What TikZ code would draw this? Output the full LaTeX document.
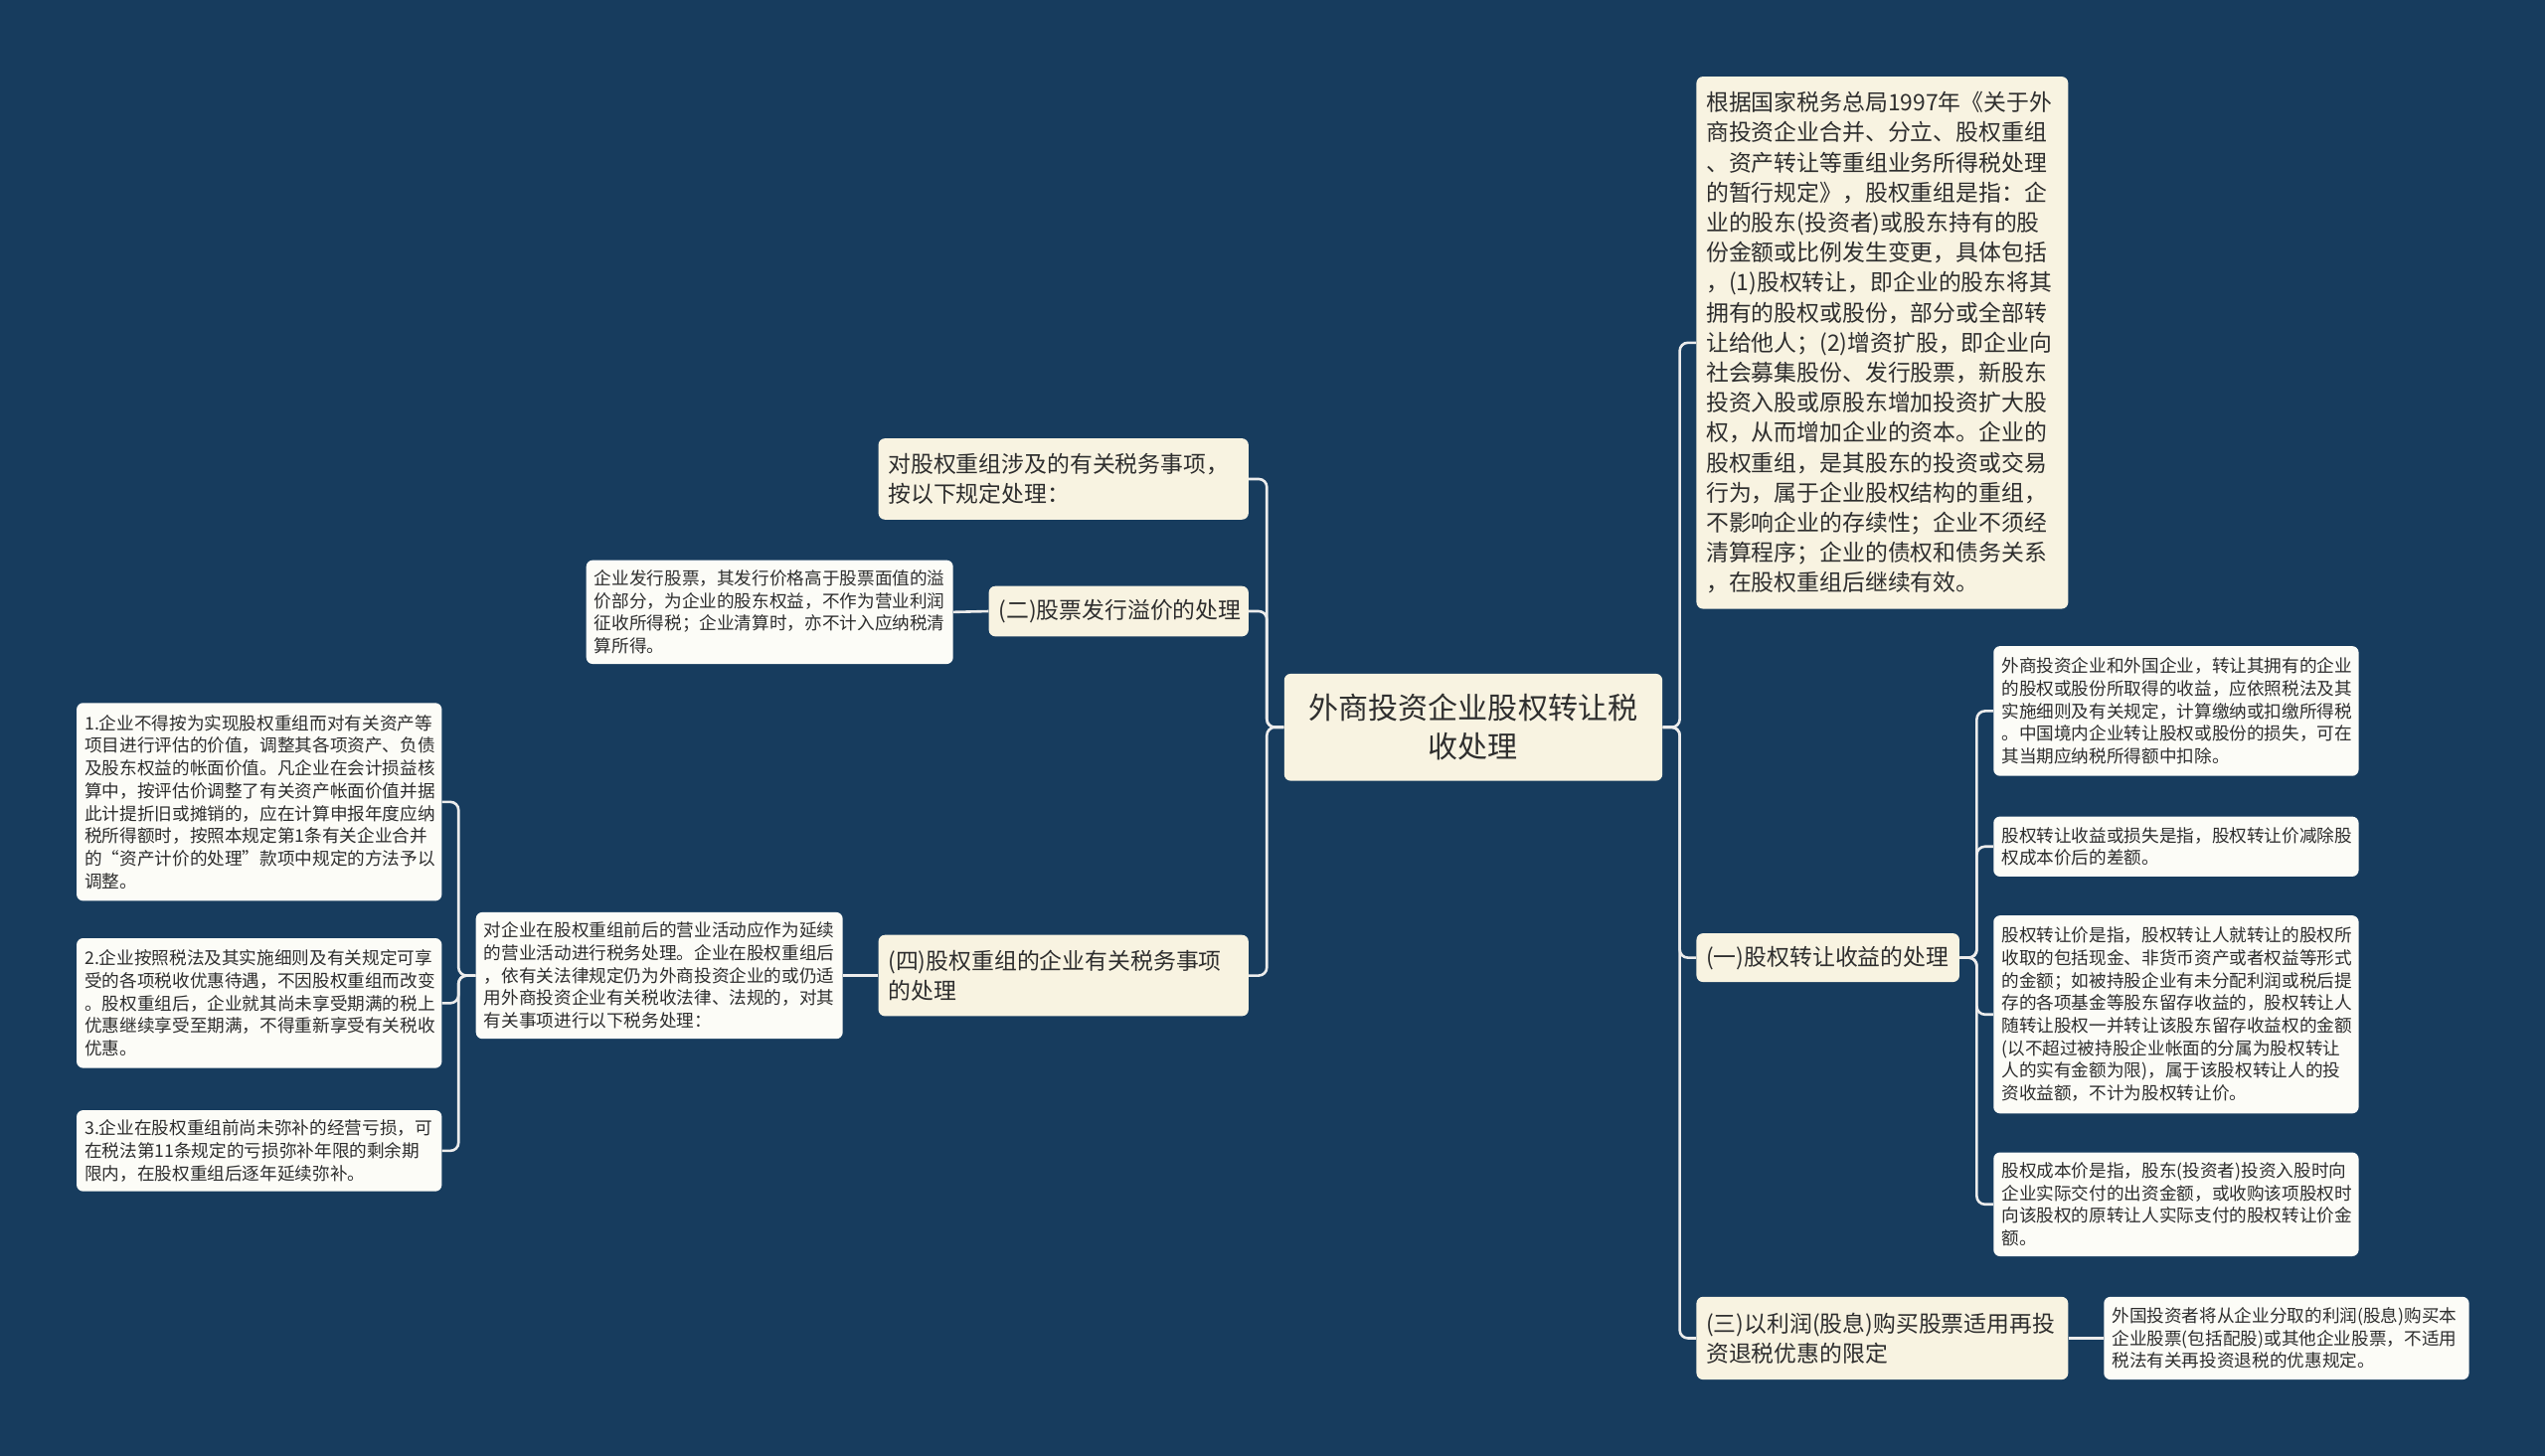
\documentclass[tikz,border=0pt]{standalone}
\usepackage{fontspec}
\newfontfamily\cjk{Noto Sans CJK SC}
\usepackage{tikz}
\usetikzlibrary{backgrounds}
\definecolor{navy}{HTML}{173C5E}
\definecolor{cream}{HTML}{F8F3E1}
\definecolor{paper}{HTML}{FCFCF7}
\definecolor{ink}{HTML}{2E2E2E}
\definecolor{wire}{HTML}{ECECEC}
\newcommand{\bgcolor}{navy}
\newcommand{\linkcolor}{wire}
\newcommand{\linkwidth}{1.6pt}
\newcommand{\gap}{10.5}
\newcommand{\bigfont}{\cjk\fontsize{18.4pt}{24pt}\selectfont}
\newcommand{\midfont}{\cjk\fontsize{14pt}{18.5pt}\selectfont}
\newcommand{\smallfont}{\cjk\fontsize{10.8pt}{13.9pt}\selectfont}

\begin{document}
\begin{tikzpicture}[x=1pt,y=-1pt,
  topic/.style={fill=cream, text=ink, rounded corners=4pt, anchor=north west,
    align=left, inner xsep=6pt, inner ysep=0pt, font=\midfont},
  note/.style={topic, fill=paper, inner xsep=5pt, font=\smallfont}]
\useasboundingbox (0,0) rectangle (1568,897);
% centre
\node[topic, align=center, font=\bigfont, minimum width=233pt, text width=221pt, minimum height=66pt] (root) at (791,415) {外商投资企业股权转让税\\收处理};
% right side
\node[topic, minimum width=229pt, text width=217pt, minimum height=328pt] (a) at (1045,47) {根据国家税务总局1997年《关于外\\商投资企业合并、分立、股权重组\\、资产转让等重组业务所得税处理\\的暂行规定》，股权重组是指：企\\业的股东(投资者)或股东持有的股\\份金额或比例发生变更，具体包括\\，(1)股权转让，即企业的股东将其\\拥有的股权或股份，部分或全部转\\让给他人；(2)增资扩股，即企业向\\社会募集股份、发行股票，新股东\\投资入股或原股东增加投资扩大股\\权，从而增加企业的资本。企业的\\股权重组，是其股东的投资或交易\\行为，属于企业股权结构的重组，\\不影响企业的存续性；企业不须经\\清算程序；企业的债权和债务关系\\，在股权重组后继续有效。};
\node[topic, minimum width=162pt, text width=150pt, minimum height=30pt] (b) at (1045,575) {(一)股权转让收益的处理};
\node[topic, minimum width=229pt, text width=217pt, minimum height=51pt] (c) at (1045,799) {(三)以利润(股息)购买股票适用再投\\资退税优惠的限定};
\node[note, minimum width=225pt, text width=215pt, minimum height=80pt] (b1) at (1228,398) {外商投资企业和外国企业，转让其拥有的企业\\的股权或股份所取得的收益，应依照税法及其\\实施细则及有关规定，计算缴纳或扣缴所得税\\。中国境内企业转让股权或股份的损失，可在\\其当期应纳税所得额中扣除。};
\node[note, minimum width=225pt, text width=215pt, minimum height=37pt] (b2) at (1228,503) {股权转让收益或损失是指，股权转让价减除股\\权成本价后的差额。};
\node[note, minimum width=225pt, text width=215pt, minimum height=122pt] (b3) at (1228,564) {股权转让价是指，股权转让人就转让的股权所\\收取的包括现金、非货币资产或者权益等形式\\的金额；如被持股企业有未分配利润或税后提\\存的各项基金等股东留存收益的，股权转让人\\随转让股权一并转让该股东留存收益权的金额\\(以不超过被持股企业帐面的分属为股权转让\\人的实有金额为限)，属于该股权转让人的投\\资收益额，不计为股权转让价。};
\node[note, minimum width=225pt, text width=215pt, minimum height=64pt] (b4) at (1228,710) {股权成本价是指，股东(投资者)投资入股时向\\企业实际交付的出资金额，或收购该项股权时\\向该股权的原转让人实际支付的股权转让价金\\额。};
\node[note, minimum width=225pt, text width=215pt, minimum height=51pt] (c1) at (1296,799) {外国投资者将从企业分取的利润(股息)购买本\\企业股票(包括配股)或其他企业股票，不适用\\税法有关再投资退税的优惠规定。};
% left side
\node[topic, minimum width=228pt, text width=216pt, minimum height=50pt] (d) at (541,270) {对股权重组涉及的有关税务事项，\\按以下规定处理：};
\node[topic, minimum width=160pt, text width=148pt, minimum height=31pt] (e) at (609,361) {(二)股票发行溢价的处理};
\node[note, minimum width=226pt, text width=216pt, minimum height=64pt] (e1) at (361,345) {企业发行股票，其发行价格高于股票面值的溢\\价部分，为企业的股东权益，不作为营业利润\\征收所得税；企业清算时，亦不计入应纳税清\\算所得。};
\node[topic, minimum width=228pt, text width=216pt, minimum height=50pt] (f) at (541,576) {(四)股权重组的企业有关税务事项\\的处理};
\node[note, minimum width=226pt, text width=216pt, minimum height=78pt] (f1) at (293,562) {对企业在股权重组前后的营业活动应作为延续\\的营业活动进行税务处理。企业在股权重组后\\，依有关法律规定仍为外商投资企业的或仍适\\用外商投资企业有关税收法律、法规的，对其\\有关事项进行以下税务处理：};
\node[note, minimum width=225pt, text width=215pt, minimum height=122pt] (f11) at (47,433) {1.企业不得按为实现股权重组而对有关资产等\\项目进行评估的价值，调整其各项资产、负债\\及股东权益的帐面价值。凡企业在会计损益核\\算中，按评估价调整了有关资产帐面价值并据\\此计提折旧或摊销的，应在计算申报年度应纳\\税所得额时，按照本规定第1条有关企业合并\\的“资产计价的处理”款项中规定的方法予以\\调整。};
\node[note, minimum width=225pt, text width=215pt, minimum height=80pt] (f12) at (47,578) {2.企业按照税法及其实施细则及有关规定可享\\受的各项税收优惠待遇，不因股权重组而改变\\。股权重组后，企业就其尚未享受期满的税上\\优惠继续享受至期满，不得重新享受有关税收\\优惠。};
\node[note, minimum width=225pt, text width=215pt, minimum height=50pt] (f13) at (47,684) {3.企业在股权重组前尚未弥补的经营亏损，可\\在税法第11条规定的亏损弥补年限的剩余期\\限内，在股权重组后逐年延续弥补。};
\begin{scope}[on background layer]
\fill[\bgcolor] (0,0) rectangle (1568,897);
\draw[\linkcolor] [line width = \linkwidth, rounded corners=5pt] (root.east) -- ++(\gap,0) |- (a.west);
\draw[\linkcolor] [line width = \linkwidth, rounded corners=5pt] (root.east) -- ++(\gap,0) |- (b.west);
\draw[\linkcolor] [line width = \linkwidth, rounded corners=5pt] (root.east) -- ++(\gap,0) |- (c.west);
\draw[\linkcolor] [line width = \linkwidth, rounded corners=5pt] (b.east) -- ++(\gap,0) |- (b1.west);
\draw[\linkcolor] [line width = \linkwidth, rounded corners=5pt] (b.east) -- ++(\gap,0) |- (b2.west);
\draw[\linkcolor] [line width = \linkwidth, rounded corners=5pt] (b.east) -- ++(\gap,0) |- (b3.west);
\draw[\linkcolor] [line width = \linkwidth, rounded corners=5pt] (b.east) -- ++(\gap,0) |- (b4.west);
\draw[\linkcolor] [line width = \linkwidth] (c.east) -- (c1.west);
\draw[\linkcolor] [line width = \linkwidth, rounded corners=5pt] (root.west) -- ++(-\gap,0) |- (d.east);
\draw[\linkcolor] [line width = \linkwidth, rounded corners=5pt] (root.west) -- ++(-\gap,0) |- (e.east);
\draw[\linkcolor] [line width = \linkwidth, rounded corners=5pt] (root.west) -- ++(-\gap,0) |- (f.east);
\draw[\linkcolor] [line width = \linkwidth] (e.west) -- (e1.east);
\draw[\linkcolor] [line width = \linkwidth] (f.west) -- (f1.east);
\draw[\linkcolor] [line width = \linkwidth, rounded corners=5pt] (f1.west) -- ++(-\gap,0) |- (f11.east);
\draw[\linkcolor] [line width = \linkwidth, rounded corners=5pt] (f1.west) -- ++(-\gap,0) |- (f12.east);
\draw[\linkcolor] [line width = \linkwidth, rounded corners=5pt] (f1.west) -- ++(-\gap,0) |- (f13.east);
\end{scope}
\end{tikzpicture}
\end{document}
